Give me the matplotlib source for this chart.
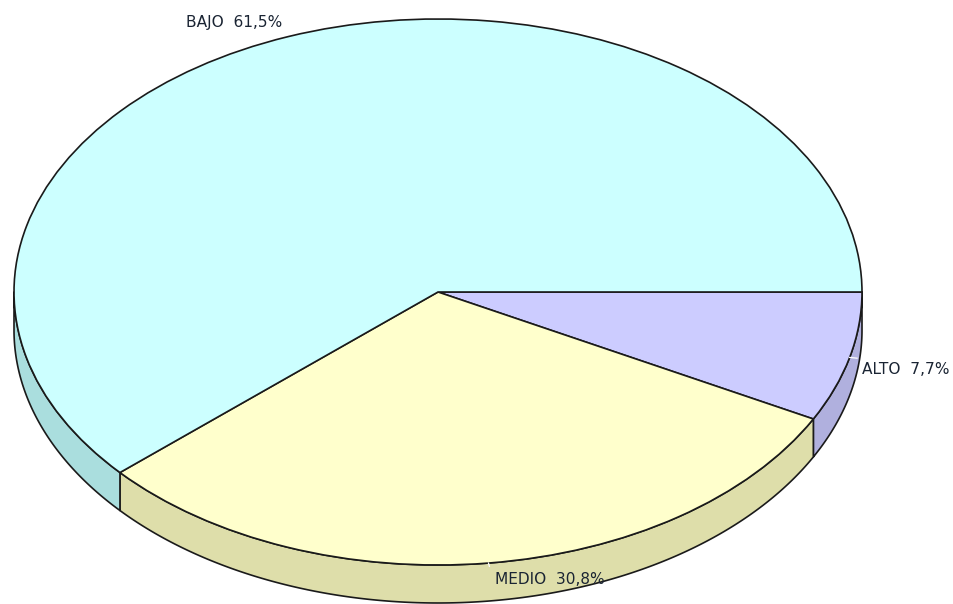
import numpy as np
import matplotlib
matplotlib.use("Agg")
import matplotlib.pyplot as plt

categories = ["ALTO", "MEDIO", "BAJO"]
values = [7.7, 30.8, 61.5]
value_labels = ["7,7%", "30,8%", "61,5%"]
top_colors = ["#CCCCFF", "#FFFFCC", "#CCFFFF"]
side_colors = ["#B0B0DE", "#DEDEAA", "#AADEDE"]

W, H = 954, 604
CX, CY, RX, RY = 438.0, 292.0, 424.0, 273.0
DEPTH = 38.0 / RY
EDGE = "#1a1a1a"

fig = plt.figure(figsize=(W / 100, H / 100), dpi=100, facecolor="white")
ax = fig.add_axes([0, 0, 1, 1])

# Side wall of the disc: only the front half (angles 0-180 clockwise) is visible
bounds = np.cumsum([0] + values) / np.sum(values) * 360.0
for i in range(len(values)):
    a0, a1 = bounds[i], min(bounds[i + 1], 180.0)
    if a1 <= a0:
        continue
    t = np.radians(np.linspace(a0, a1, 200))
    x = np.cos(t)
    y = -np.sin(t)
    ax.fill(np.r_[x, x[::-1]], np.r_[y, y[::-1] - DEPTH],
            facecolor=side_colors[i], edgecolor=EDGE, linewidth=1.2,
            joinstyle="round", zorder=1)

# Top face of the disc
wedges, _ = ax.pie(values, colors=top_colors, startangle=0, counterclock=False,
                   radius=1.0, center=(0, 0),
                   wedgeprops=dict(edgecolor=EDGE, linewidth=1.2, zorder=2))
ax.set_aspect("auto")
ax.set_xlim(-CX / RX, (W - CX) / RX)
ax.set_ylim(-(H - CY) / RY, CY / RY)
ax.axis("off")

# Short white leader ticks at wedge mid-angles
for i in (0, 1):
    m = np.radians((bounds[i] + bounds[i + 1]) / 2)
    ax.plot([1.0 * np.cos(m), 1.018 * np.cos(m)],
            [-1.0 * np.sin(m), -1.012 * np.sin(m)],
            color="white", linewidth=0.9, zorder=3)

def px(xp, yp):
    return (xp - CX) / RX, (CY - yp) / RY

label_pos = [(862, 370), (495, 579), (186, 22)]
for cat, val, (xp, yp) in zip(categories, value_labels, label_pos):
    xd, yd = px(xp, yp)
    ax.text(xd, yd, f"{cat}  {val}", fontsize=11.1, family="DejaVu Sans",
            color="#1a2433", ha="left", va="center", zorder=5)

fig.savefig("out.png", dpi=100, facecolor="white")
